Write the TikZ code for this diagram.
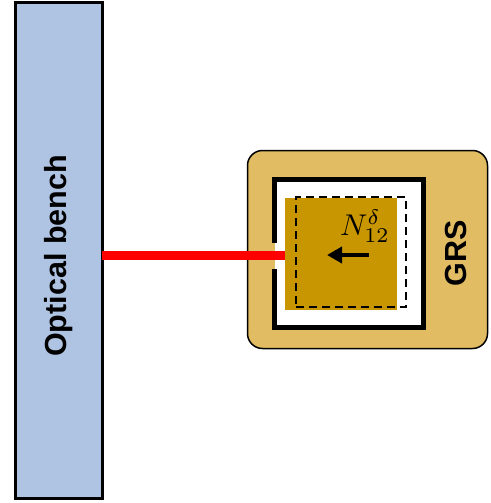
\documentclass[tikz,border=0pt]{standalone}
\usepackage{fontspec}
\setsansfont{Liberation Sans}
\usetikzlibrary{arrows.meta}
\definecolor{benchblue}{RGB}{175,196,227}
\definecolor{grsgold}{RGB}{225,188,98}
\definecolor{massgold}{RGB}{200,150,0}
\begin{document}
\begin{tikzpicture}
[x=1pt,y=1pt,
big label/.style={font=\sffamily\bfseries\fontsize{30.5}{32}\selectfont,rotate=90},
box/.style={rectangle,inner sep=0pt,outer sep=0pt}]
\useasboundingbox (0,0) rectangle (490,-503);
% optical bench on the left
\node[box,draw,line width=3pt,fill=benchblue,minimum width=87pt,minimum height=495pt] (bench) at (58.5,-250.5) {};
\node[big label] (benchtext) at (58.5,-256) {Optical bench};
% sensor housing
\node[box,draw=black,line width=1.5pt,fill=grsgold,rounded corners=15pt,minimum width=240pt,minimum height=198pt] (grs) at (367.5,-249.5) {};
\node[big label] (grstext) at (456,-253) {GRS};
% electrode cage, open where the beam enters
\node[box,fill=white,minimum width=149pt,minimum height=148pt] (cage) at (349,-253.5) {};
\draw[line width=5pt] (cage.west |- 0,-243) -- (cage.north west) -- (cage.north east)
  -- (cage.south east) -- (cage.south west) -- (cage.west |- 0,-269);
% test mass and its displaced outline
\node[box,fill=massgold,minimum width=112pt,minimum height=112pt] (mass) at (341,-254) {};
\node[box,draw,dashed,dash pattern=on 8pt off 5pt,line width=1.4pt,minimum width=110pt,minimum height=110pt] (shifted) at (351,-252) {};
% laser link
\draw[red,line width=9pt] (bench.east |- 0,-255.5) -- (mass.west |- 0,-255.5);
% force on the mass
\coordinate (tail) at (369,-255);
\coordinate (head) at (327,-255);
\draw[line width=4pt,-{Triangle[length=15pt,width=16pt]}] (tail) -- (head);
\node[inner sep=0pt] (force) at (365,-226) {\scalebox{3}{$N_{12}^{\delta}$}};
\end{tikzpicture}
\end{document}
